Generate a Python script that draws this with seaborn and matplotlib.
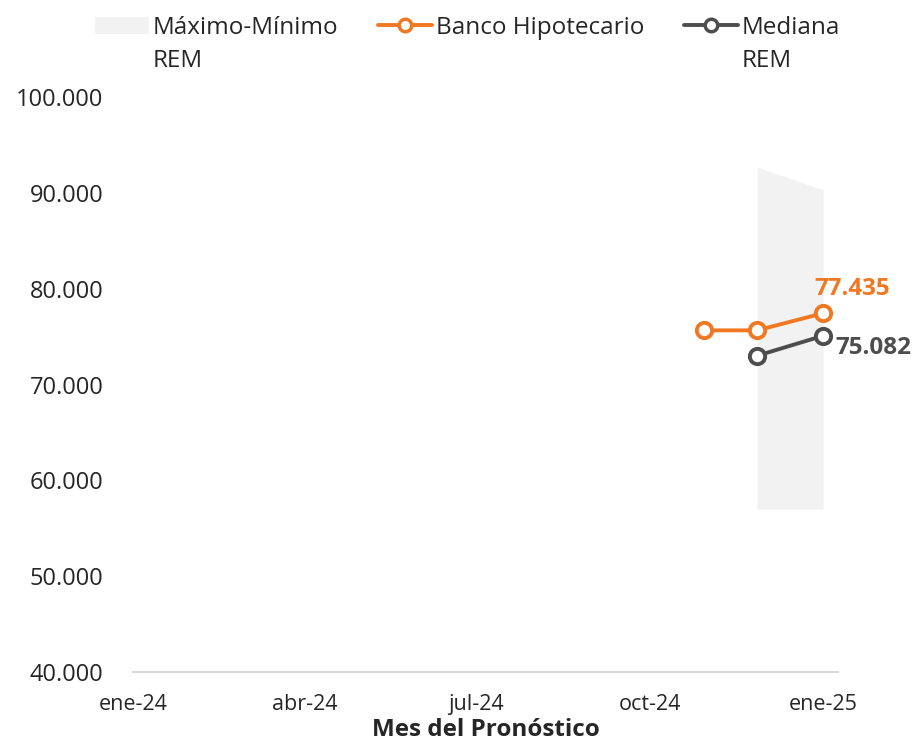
import matplotlib
matplotlib.use("Agg")
import matplotlib.pyplot as plt
import matplotlib.dates as mdates
from matplotlib.ticker import FuncFormatter, FixedLocator
from matplotlib.patches import Patch
from matplotlib.lines import Line2D
import seaborn as sns
import pandas as pd

# ---- data ----
banco_dates = ["2024-10-30", "2024-11-27", "2025-01-01"]
banco_values = [75650, 75650, 77435]
mediana_dates = ["2024-11-27", "2025-01-01"]
mediana_values = [73000, 75082]
range_dates = ["2024-11-27", "2025-01-01"]
range_max = [92700, 90300]
range_min = [57000, 57000]
tick_dates = ["2024-01-01", "2024-04-01", "2024-07-01", "2024-10-01", "2025-01-01"]
tick_labels = ["ene-24", "abr-24", "jul-24", "oct-24", "ene-25"]
y_ticks = [40000, 50000, 60000, 70000, 80000, 90000, 100000]
legend_first = ["Máximo-Mínimo", "Banco Hipotecario", "Mediana"]
legend_second = ["REM", "", "REM"]

ORANGE = "#F07822"
DARK = "#4D4D4D"
SHADE = "#F2F2F2"
TXT = "#262626"

sns.set_theme(style="white")
plt.rcParams["font.family"] = ["Open Sans", "DejaVu Sans"]

df_b = pd.DataFrame({"fecha": pd.to_datetime(banco_dates), "valor": banco_values})
df_m = pd.DataFrame({"fecha": pd.to_datetime(mediana_dates), "valor": mediana_values})
df_r = pd.DataFrame({"fecha": pd.to_datetime(range_dates), "max": range_max, "min": range_min})

fig = plt.figure(figsize=(9.16, 7.42), dpi=100)
ax = fig.add_axes([0.145, 0.0943, 0.770, 0.7750])

ax.fill_between(df_r["fecha"], df_r["min"], df_r["max"], color=SHADE, linewidth=0, zorder=1)
sns.lineplot(data=df_b, x="fecha", y="valor", ax=ax, color=ORANGE, linewidth=2.8,
             marker="o", markersize=11, markerfacecolor="white", markeredgecolor=ORANGE,
             markeredgewidth=2.8, zorder=3)
sns.lineplot(data=df_m, x="fecha", y="valor", ax=ax, color=DARK, linewidth=2.8,
             marker="o", markersize=11, markerfacecolor="white", markeredgecolor=DARK,
             markeredgewidth=2.8, zorder=3)

def fmt_num(v):
    return f"{v:,.0f}".replace(",", ".")

# data labels
ax.annotate(fmt_num(banco_values[-1]), (df_b["fecha"].iloc[-1], banco_values[-1]),
            xytext=(-6, 9), textcoords="offset points", ha="left", va="bottom",
            color=ORANGE, fontsize=17.5, fontweight="bold")
ax.annotate(fmt_num(mediana_values[-1]), (df_m["fecha"].iloc[-1], mediana_values[-1]),
            xytext=(9, -9), textcoords="offset points", ha="left", va="center",
            color=DARK, fontsize=17.5, fontweight="bold")

ax.set_xlim(pd.Timestamp("2024-01-01"), pd.Timestamp("2025-01-09"))
ax.set_ylim(40000, 100000)
ax.xaxis.set_major_locator(FixedLocator(mdates.date2num(pd.to_datetime(tick_dates))))
ax.set_xticklabels(tick_labels)
ax.set_yticks(y_ticks)
ax.yaxis.set_major_formatter(FuncFormatter(lambda v, p: fmt_num(v)))
ax.tick_params(axis="y", labelsize=17, labelcolor=TXT, length=0, pad=21)
ax.tick_params(axis="x", labelsize=15.5, labelcolor=TXT, length=0, pad=16)

for s in ["top", "right", "left"]:
    ax.spines[s].set_visible(False)
ax.spines["bottom"].set_color("#D9D9D9")
ax.spines["bottom"].set_linewidth(1.5)
ax.grid(False)
ax.set_ylabel("")
ax.set_xlabel("Mes del Pronóstico", fontsize=17.5, fontweight="bold", color=TXT, labelpad=2)

handles = [Patch(facecolor=SHADE, edgecolor="none"),
           Line2D([], [], color=ORANGE, linewidth=2.8, marker="o", markersize=9,
                  markerfacecolor="white", markeredgecolor=ORANGE, markeredgewidth=2.5),
           Line2D([], [], color=DARK, linewidth=2.8, marker="o", markersize=9,
                  markerfacecolor="white", markeredgecolor=DARK, markeredgewidth=2.5)]
leg = fig.legend(handles, legend_first, loc="upper left", bbox_to_anchor=(0.080, 1.008), ncol=3,
                 frameon=False, fontsize=17.5, handlelength=2.2, handletextpad=0.16,
                 columnspacing=1.65, labelcolor=TXT)

fig.canvas.draw()
inv = fig.transFigure.inverted()
for txt, second in zip(leg.get_texts(), legend_second):
    if not second:
        continue
    bb = txt.get_window_extent()
    x0, y0 = inv.transform((bb.x0, bb.y0 - 33))
    fig.text(x0, y0, second, fontsize=17.5, color=TXT, ha="left", va="bottom")

fig.savefig("out.png", dpi=100)
